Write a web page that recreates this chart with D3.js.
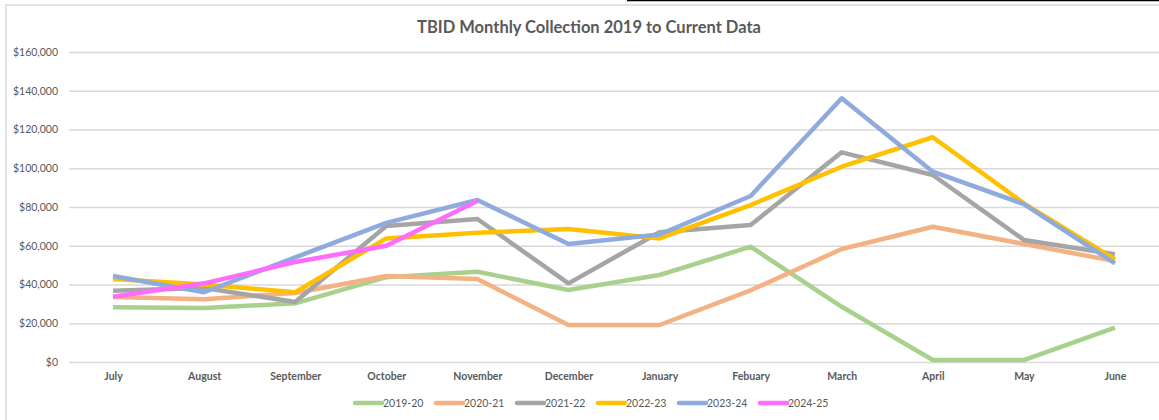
<!DOCTYPE html>
<html><head><meta charset="utf-8">
<script src="https://cdn.jsdelivr.net/npm/d3@7"></script>
<style>body{margin:0;background:#fff;}svg{display:block;font-family:Lato,"Open Sans",sans-serif;}</style>
</head><body>
<svg id="c" width="1159" height="420"></svg>
<script>
const months = ["July","August","September","October","November","December","January","Febuary","March","April","May","June"];
const yTicks = [0,20000,40000,60000,80000,100000,120000,140000,160000];
const seriesNames = ["2019-20","2020-21","2021-22","2022-23","2023-24","2024-25"];
const s2019 = [28200,27900,30300,43800,46600,37200,44900,59500,28500,1000,1000,17700];
const s2020 = [33600,32400,35600,44400,42800,19100,19100,37000,58300,69800,60900,52100];
const s2021 = [36800,38200,31000,70200,73800,40600,67000,70700,108200,96500,63000,55600];
const s2022 = [42800,40000,36000,63800,66700,68600,63800,81000,100800,116000,81900,53000];
const s2023 = [44400,36000,54000,71800,83600,60900,65800,85700,136100,98200,81500,50900];
const s2024 = [33700,40600,51600,60000,83100];
const colors = ["#A9D18E","#F4B183","#A5A5A5","#FFC000","#8FAADC","#FF6BFF"];
const allSeries = [s2019,s2020,s2021,s2022,s2023,s2024];

const svg = d3.select("#c");
svg.append("rect").attr("x",6).attr("y",5).attr("width",1200).attr("height",500)
  .attr("fill","none").attr("stroke","#D9D9D9").attr("stroke-width",1.5);
svg.append("line").attr("x1",627).attr("x2",1159).attr("y1",0.5).attr("y2",0.5).attr("stroke","#000").attr("stroke-width",1.5);

svg.append("text").attr("x",589).attr("y",33).attr("text-anchor","middle")
  .attr("font-size",16.5).attr("font-weight","bold").attr("fill","#595959")
  .text("TBID Monthly Collection 2019 to Current Data");

const x = d3.scalePoint().domain(months).range([67.5,1160.5]).padding(0.5);
const y = d3.scaleLinear().domain([0,160000]).range([362,52]);

const gy = svg.append("g").attr("transform","translate(69,0)")
  .call(d3.axisLeft(y).tickValues(yTicks).tickSize(-1100).tickPadding(11)
    .tickFormat(d=>"$"+d3.format(",")(d)));
gy.select(".domain").remove();
gy.selectAll(".tick line").attr("stroke","#D9D9D9").attr("stroke-width",1.5);
gy.selectAll(".tick text").attr("fill","#595959").attr("font-size",10.5).attr("font-family","Lato,sans-serif");

const gx = svg.append("g").attr("transform","translate(0,362)")
  .call(d3.axisBottom(x).tickSize(0).tickPadding(11));
gx.select(".domain").remove();
gx.selectAll(".tick text").attr("fill","#595959").attr("font-size",10.5).attr("font-weight","bold").attr("font-family","Lato,sans-serif");

const line = d3.line().x((d,i)=>x(months[i])).y(d=>y(d));
allSeries.forEach((s,k)=>{
  svg.append("path").datum(s).attr("d",line).attr("fill","none")
    .attr("stroke",colors[k]).attr("stroke-width",4.5).attr("stroke-linejoin","round");
});

const lg = svg.append("g").attr("transform","translate(354,403)");
seriesNames.forEach((n,k)=>{
  const g = lg.append("g").attr("transform",`translate(${k*81},0)`);
  g.append("line").attr("x1",1).attr("x2",28).attr("y1",0).attr("y2",0)
    .attr("stroke",colors[k]).attr("stroke-width",4.5).attr("stroke-linecap","round");
  g.append("text").attr("x",29).attr("y",3.5).attr("font-size",10.5).attr("fill","#595959").text(n);
});
</script>
</body></html>
